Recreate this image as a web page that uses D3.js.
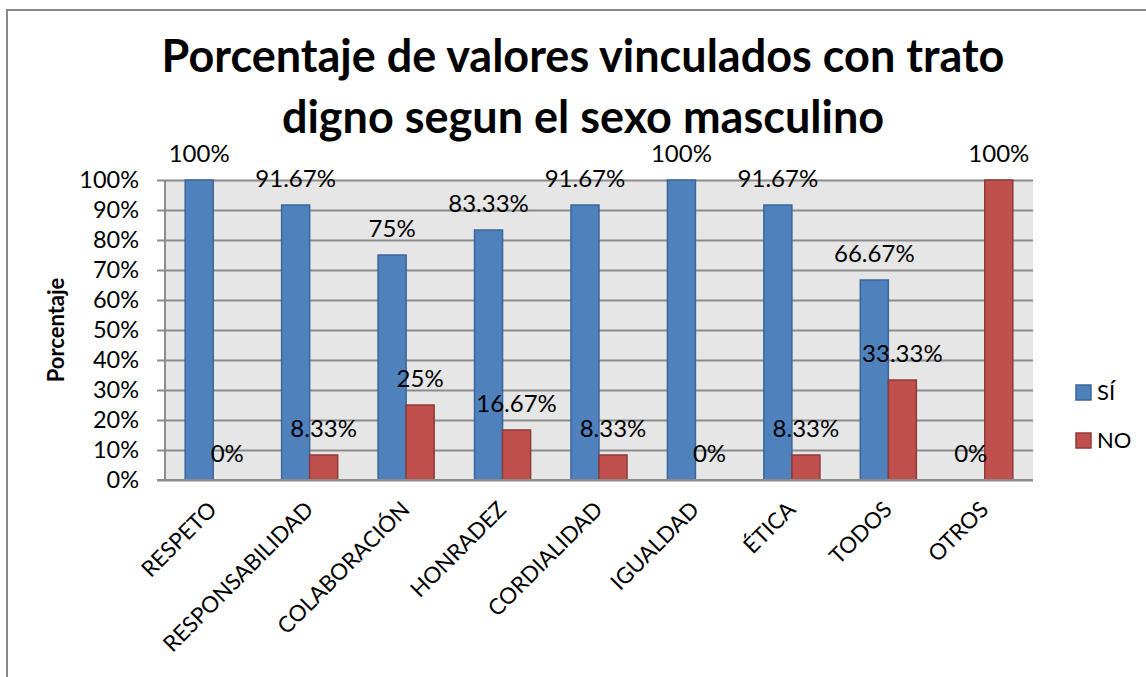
<!DOCTYPE html>
<html>
<head>
<meta charset="utf-8">
<script src="https://cdn.jsdelivr.net/npm/d3@7"></script>
<style>
  html, body { margin: 0; padding: 0; background: #fff; }
  svg { display: block; }
</style>
</head>
<body>
<svg id="chart" width="1146" height="677"></svg>
<script>
// Categories and series (percentages)
const categories = ["RESPETO", "RESPONSABILIDAD", "COLABORACIÓN", "HONRADEZ", "CORDIALIDAD", "IGUALDAD", "ÉTICA", "TODOS", "OTROS"];
const siValues = [100, 91.67, 75, 83.33, 91.67, 100, 91.67, 66.67, 0];
const noValues = [0, 8.33, 25, 16.67, 8.33, 0, 8.33, 33.33, 100];
const seriesNames = ["SÍ", "NO"];
const yTicks = [0, 10, 20, 30, 40, 50, 60, 70, 80, 90, 100];
const titleLines = ["Porcentaje de valores vinculados con trato", "digno segun el sexo masculino"];
const yAxisTitle = "Porcentaje";

const colors = { "SÍ": "#4f81bd", "NO": "#c0504d" };
const strokes = { "SÍ": "#3b6699", "NO": "#8e3b39" };
const font = "Lato, 'Open Sans', sans-serif";

const svg = d3.select("#chart");

// Outer chart frame
svg.append("rect")
  .attr("x", 7).attr("y", 10).attr("width", 1160).attr("height", 700)
  .attr("fill", "#fff").attr("stroke", "#888").attr("stroke-width", 2);

const plot = { left: 165, right: 1033, top: 180, bottom: 480 };

const x = d3.scaleBand().domain(categories).range([plot.left, plot.right]).paddingInner(0).paddingOuter(0);
const x1 = d3.scaleBand().domain(seriesNames).range([0, x.bandwidth()]).paddingInner(0).paddingOuter(0.72);
const y = d3.scaleLinear().domain([0, 100]).range([plot.bottom, plot.top]);

// Plot background
svg.append("rect")
  .attr("x", plot.left).attr("y", plot.top)
  .attr("width", plot.right - plot.left).attr("height", plot.bottom - plot.top)
  .attr("fill", "#e6e6e6");

// Gridlines + y axis
const yAxis = d3.axisLeft(y).tickValues(yTicks).tickFormat(d => d + "%")
  .tickSize(-(plot.right - plot.left)).tickPadding(26);
const gy = svg.append("g").attr("transform", `translate(${plot.left},0)`).call(yAxis);
gy.select(".domain").remove();
gy.selectAll(".tick line").attr("stroke", "#8c8c8c").attr("stroke-width", 2).attr("x1", -8);
gy.selectAll(".tick text").attr("font-family", font).attr("font-size", 23.5).attr("fill", "#000");

// Axis lines
svg.append("line").attr("x1", plot.left).attr("x2", plot.left)
  .attr("y1", plot.top).attr("y2", plot.bottom).attr("stroke", "#8c8c8c").attr("stroke-width", 2);

// Bars
const groups = svg.append("g").selectAll("g").data(categories).join("g")
  .attr("transform", d => `translate(${x(d)},0)`);

groups.each(function(cat, i) {
  const g = d3.select(this);
  const vals = [{ s: "SÍ", v: siValues[i] }, { s: "NO", v: noValues[i] }];
  vals.forEach(o => {
    if (o.v > 0) {
      g.append("rect")
        .attr("x", x1(o.s)).attr("y", y(o.v))
        .attr("width", x1.bandwidth()).attr("height", y(0) - y(o.v))
        .attr("fill", colors[o.s]).attr("stroke", strokes[o.s]).attr("stroke-width", 1.5);
    }
  });
  vals.forEach(o => {
    g.append("text")
      .attr("x", x1(o.s) + x1.bandwidth() / 2).attr("y", y(o.v) - 18)
      .attr("text-anchor", "middle")
      .attr("font-family", font).attr("font-size", 24).attr("fill", "#000")
      .text(o.v + "%");
  });
});

// Bottom axis line
svg.append("line").attr("x1", plot.left - 8).attr("x2", plot.right)
  .attr("y1", plot.bottom).attr("y2", plot.bottom).attr("stroke", "#8c8c8c").attr("stroke-width", 2);

// Category labels
svg.append("g").selectAll("text").data(categories).join("text")
  .attr("transform", d => `translate(${x(d) + x.bandwidth() / 2 + 5},${plot.bottom + 31}) rotate(-45)`)
  .attr("text-anchor", "end")
  .attr("font-family", font).attr("font-size", 22.3).attr("fill", "#000")
  .text(d => d);

// Title
svg.append("g").selectAll("text").data(titleLines).join("text")
  .attr("x", 583).attr("y", (d, i) => 72 + i * 61)
  .attr("text-anchor", "middle")
  .attr("font-family", font).attr("font-weight", "bold").attr("font-size", 45).attr("fill", "#000")
  .text(d => d);

// Y axis title
svg.append("text")
  .attr("transform", "translate(64,330) rotate(-90)")
  .attr("text-anchor", "middle")
  .attr("font-family", font).attr("font-weight", "bold").attr("font-size", 22).attr("fill", "#000")
  .text(yAxisTitle);

// Legend
const legend = svg.append("g").selectAll("g").data(seriesNames).join("g")
  .attr("transform", (d, i) => `translate(1076,${385 + i * 48})`);
legend.append("rect").attr("width", 15).attr("height", 15)
  .attr("fill", d => colors[d]).attr("stroke", d => strokes[d]).attr("stroke-width", 1.5);
legend.append("text").attr("x", 21).attr("y", 15)
  .attr("font-family", font).attr("font-size", 22).attr("fill", "#000")
  .text(d => d);
</script>
</body>
</html>
